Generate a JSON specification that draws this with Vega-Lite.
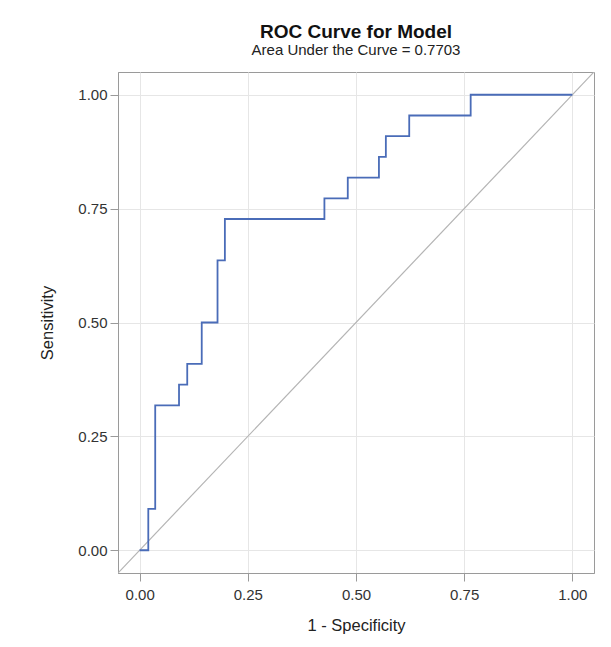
{
  "$schema": "https://vega.github.io/schema/vega-lite/v6.json",
  "width": 476,
  "height": 501,
  "autosize": {"type": "none"},
  "padding": {"left": 118, "top": 72, "right": 17, "bottom": 74},
  "background": "white",
  "title": {
    "text": "ROC Curve for Model",
    "subtitle": "Area Under the Curve = 0.7703",
    "font": "Liberation Sans",
    "fontSize": 19,
    "fontWeight": "bold",
    "color": "#111111",
    "subtitleFont": "Liberation Sans",
    "subtitleFontSize": 15,
    "subtitleColor": "#222222",
    "subtitlePadding": 1,
    "anchor": "middle",
    "offset": 14
  },
  "config": {
    "view": {"stroke": "#9a9a9a", "strokeWidth": 1},
    "axis": {
      "labelFont": "Liberation Sans",
      "titleFont": "Liberation Sans",
      "labelFontSize": 15,
      "titleFontSize": 16.5,
      "titleFontWeight": "normal",
      "labelColor": "#333333",
      "titleColor": "#222222",
      "gridColor": "#e6e6e6",
      "domainColor": "#9a9a9a",
      "tickColor": "#9a9a9a",
      "tickSize": 8
    }
  },
  "datasets": {
    "roc": [
      {"fpr": 0.0, "sens": 0.0},
      {"fpr": 0.02, "sens": 0.0909},
      {"fpr": 0.036, "sens": 0.3182},
      {"fpr": 0.091, "sens": 0.3636},
      {"fpr": 0.11, "sens": 0.4091},
      {"fpr": 0.1435, "sens": 0.5},
      {"fpr": 0.18, "sens": 0.6364},
      {"fpr": 0.197, "sens": 0.7273},
      {"fpr": 0.427, "sens": 0.7727},
      {"fpr": 0.481, "sens": 0.8182},
      {"fpr": 0.553, "sens": 0.8636},
      {"fpr": 0.569, "sens": 0.9091},
      {"fpr": 0.623, "sens": 0.9545},
      {"fpr": 0.765, "sens": 1.0},
      {"fpr": 1.0, "sens": 1.0}
    ],
    "diag": [
      {"fpr": -0.05, "sens": -0.05},
      {"fpr": 1.05, "sens": 1.05}
    ]
  },
  "layer": [
    {
      "data": {"name": "diag"},
      "mark": {"type": "line", "color": "#b4b4b4", "strokeWidth": 1.2, "clip": true},
      "encoding": {
        "x": {"field": "fpr", "type": "quantitative", "scale": {"domain": [-0.05, 1.05], "nice": false, "zero": false},
          "axis": {"title": "1 - Specificity", "values": [0, 0.25, 0.5, 0.75, 1], "format": ".2f", "labelPadding": 6, "titlePadding": 15}},
        "y": {"field": "sens", "type": "quantitative", "scale": {"domain": [-0.05, 1.05], "nice": false, "zero": false},
          "axis": {"title": "Sensitivity", "values": [0, 0.25, 0.5, 0.75, 1], "format": ".2f", "labelPadding": 3, "titlePadding": 22}}
      }
    },
    {
      "data": {"name": "roc"},
      "mark": {"type": "line", "color": "#4a6cb8", "strokeWidth": 1.8, "interpolate": "step-after", "clip": true},
      "encoding": {
        "x": {"field": "fpr", "type": "quantitative"},
        "y": {"field": "sens", "type": "quantitative"}
      }
    }
  ]
}
